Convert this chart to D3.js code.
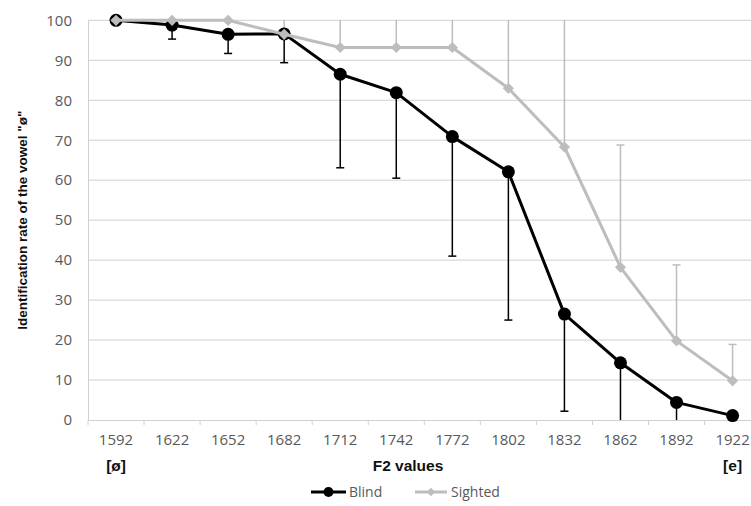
<!DOCTYPE html>
<html>
<head>
<meta charset="utf-8">
<script src="https://cdn.jsdelivr.net/npm/d3@7"></script>
<style>
  body { margin: 0; background: #fff; }
  svg { display: block; }
</style>
</head>
<body>
<svg id="svg" width="751" height="506"></svg>
<script>
// F2 values (categories)
let categories = ["1592", "1622", "1652", "1682", "1712", "1742", "1772", "1802", "1832", "1862", "1892", "1922"];
let blindValues = [100, 98.8, 96.5, 96.6, 86.5, 81.9, 70.9, 62.1, 26.5, 14.3, 4.4, 1.1];
let sightedValues = [100, 100, 100, 96.5, 93.2, 93.2, 93.2, 83, 68.3, 38.2, 19.8, 9.8];
// lower end of the blind error bars, upper end of the sighted error bars
let blindLow = [null, 95.3, 91.7, 89.4, 63.1, 60.5, 41, 25, 2.2, 0, 0, null];
let sightedHigh = [null, null, null, 100, 100, 100, 100, 100, 100, 68.8, 38.8, 18.9];
let yTicks = [0, 10, 20, 30, 40, 50, 60, 70, 80, 90, 100];

let svg = d3.select("#svg");
const plotLeft = 88, plotRight = 760.6, plotTop = 20.3, plotBottom = 420;

let xScale = d3.scaleBand().domain(categories).range([plotLeft, plotRight]).padding(0);
let yScale = d3.scaleLinear().domain([0, 100]).range([plotBottom, plotTop]);
let cx = c => xScale(c) + xScale.bandwidth() / 2;

const textColor = "#595959";
const gridColor = "#d0d0d0";
const black = "#000000";
const gray = "#bdbdbd";

// gridlines
svg.append("g")
    .selectAll("line")
    .data(yTicks.filter(d => d > 0))
    .join("line")
    .attr("x1", plotLeft).attr("x2", plotRight)
    .attr("y1", d => yScale(d)).attr("y2", d => yScale(d))
    .attr("stroke", gridColor).attr("stroke-width", 1);

// y axis
let yAxis = svg.append("g")
    .attr("transform", `translate(${plotLeft},0)`)
    .call(d3.axisLeft(yScale).tickValues(yTicks).tickSize(0).tickPadding(16));
yAxis.select(".domain").attr("stroke", gridColor);
yAxis.selectAll("text")
    .attr("fill", textColor)
    .style("font-family", "'Open Sans', sans-serif")
    .style("font-size", "15px");

// x axis
let xAxis = svg.append("g")
    .attr("transform", `translate(0,${plotBottom})`)
    .call(d3.axisBottom(xScale).tickSize(0).tickPadding(14));
xAxis.select(".domain").attr("stroke", gridColor);
xAxis.selectAll("text")
    .attr("fill", textColor)
    .style("font-family", "'Open Sans', sans-serif")
    .style("font-size", "15px");

// tick marks between categories
svg.append("g")
    .selectAll("line")
    .data(categories)
    .join("line")
    .attr("x1", d => xScale(d)).attr("x2", d => xScale(d))
    .attr("y1", plotBottom).attr("y2", plotBottom + 5)
    .attr("stroke", gridColor);

// axis titles
svg.append("text")
    .attr("transform", `translate(27,${(plotTop + plotBottom) / 2}) rotate(-90)`)
    .attr("text-anchor", "middle")
    .style("font-family", "'Liberation Sans', Arial, sans-serif")
    .style("font-weight", "bold")
    .style("font-size", "13.5px")
    .attr("fill", "#111")
    .text("Identification rate of the vowel \"ø\"");

const titleFont = g => g
    .attr("text-anchor", "middle")
    .style("font-family", "'Liberation Sans', Arial, sans-serif")
    .style("font-weight", "bold")
    .style("font-size", "15.5px")
    .attr("fill", "#111");

svg.append("text").attr("x", 408).attr("y", 471).call(titleFont).text("F2 values");
svg.append("text").attr("x", cx("1592")).attr("y", 471).call(titleFont).text("[ø]");
svg.append("text").attr("x", cx("1922")).attr("y", 471).call(titleFont).text("[e]");

// error bars
let blindErr = categories.map((c, i) => ({ c, v: blindValues[i], e: blindLow[i] })).filter(d => d.e !== null);
let sightedErr = categories.map((c, i) => ({ c, v: sightedValues[i], e: sightedHigh[i] })).filter(d => d.e !== null);

function drawErrors(data, color) {
    let g = svg.append("g");
    g.selectAll(".err")
        .data(data)
        .join("line")
        .attr("x1", d => cx(d.c)).attr("x2", d => cx(d.c))
        .attr("y1", d => yScale(d.v)).attr("y2", d => yScale(d.e))
        .attr("stroke", color).attr("stroke-width", 1.5);
    g.selectAll(".cap")
        .data(data.filter(d => d.e > 0 && d.e < 100))
        .join("line")
        .attr("x1", d => cx(d.c) - 4).attr("x2", d => cx(d.c) + 4)
        .attr("y1", d => yScale(d.e)).attr("y2", d => yScale(d.e))
        .attr("stroke", color).attr("stroke-width", 1.5);
}
drawErrors(sightedErr, gray);
drawErrors(blindErr, black);

// lines
let line = d3.line().x(d => cx(d.c)).y(d => yScale(d.v));
let blindData = categories.map((c, i) => ({ c, v: blindValues[i] }));
let sightedData = categories.map((c, i) => ({ c, v: sightedValues[i] }));

svg.append("path")
    .datum(blindData)
    .attr("d", line)
    .attr("fill", "none").attr("stroke", black).attr("stroke-width", 3)
    .attr("stroke-linejoin", "round");

svg.selectAll(".blind-dot")
    .data(blindData)
    .join("circle")
    .attr("cx", d => cx(d.c)).attr("cy", d => yScale(d.v))
    .attr("r", 6.5)
    .attr("fill", black);

svg.append("path")
    .datum(sightedData)
    .attr("d", line)
    .attr("fill", "none").attr("stroke", gray).attr("stroke-width", 3)
    .attr("stroke-linejoin", "round");

let diamond = d3.symbol().type(d3.symbolDiamond2).size(80);
svg.selectAll(".sighted-dot")
    .data(sightedData)
    .join("path")
    .attr("transform", d => `translate(${cx(d.c)},${yScale(d.v)})`)
    .attr("d", diamond)
    .attr("fill", gray);

// legend
let legend = svg.append("g").attr("transform", "translate(0,492)");
legend.append("line").attr("x1", 311).attr("x2", 346).attr("y1", 0).attr("y2", 0)
    .attr("stroke", black).attr("stroke-width", 3);
legend.append("circle").attr("cx", 328.5).attr("cy", 0).attr("r", 5).attr("fill", black);
legend.append("text").attr("x", 349).attr("y", 5)
    .style("font-family", "'Open Sans', sans-serif").style("font-size", "14px")
    .attr("fill", textColor).text("Blind");
legend.append("line").attr("x1", 415).attr("x2", 447).attr("y1", 0).attr("y2", 0)
    .attr("stroke", gray).attr("stroke-width", 3);
legend.append("path").attr("transform", "translate(431,0)")
    .attr("d", d3.symbol().type(d3.symbolDiamond2).size(45)).attr("fill", gray);
legend.append("text").attr("x", 451).attr("y", 5)
    .style("font-family", "'Open Sans', sans-serif").style("font-size", "14px")
    .attr("fill", textColor).text("Sighted");
</script>
</body>
</html>
